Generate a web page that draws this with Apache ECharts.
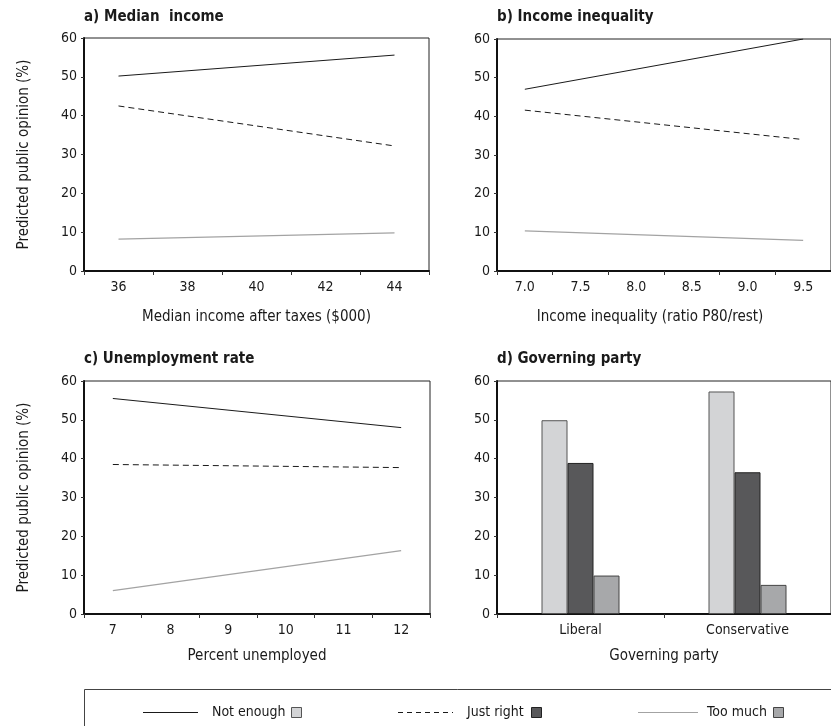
<!DOCTYPE html>
<html>
<head>
<meta charset="utf-8">
<title>Predicted public opinion</title>
<script src="https://cdn.jsdelivr.net/npm/echarts@6/dist/echarts.min.js"></script>
<style>
  html, body { margin: 0; padding: 0; background: #fff; }
  #chart { width: 831px; height: 726px; }
</style>
</head>
<body>
<div id="chart"></div>
<script>
// Category ticks for each panel
const medianIncome = ['36', '38', '40', '42', '44'];
const inequality = ['7.0', '7.5', '8.0', '8.5', '9.0', '9.5'];
const unemployment = ['7', '8', '9', '10', '11', '12'];
const parties = ['Liberal', 'Conservative'];

// Opinion groups
const opinions = ['Not enough', 'Just right', 'Too much'];

// Predicted values at the first and last tick of each range
const incomeNotEnough = [50.2, 55.6];
const incomeJustRight = [42.5, 32.2];
const incomeTooMuch = [8.2, 9.8];

const inequalityNotEnough = [47.0, 60.0];
const inequalityJustRight = [41.6, 34.0];
const inequalityTooMuch = [10.4, 7.9];

const unemploymentNotEnough = [55.5, 48.0];
const unemploymentJustRight = [38.5, 37.7];
const unemploymentTooMuch = [6.0, 16.3];

// Governing party bars (Liberal, Conservative)
const partyNotEnough = [49.9, 57.3];
const partyJustRight = [38.9, 36.5];
const partyTooMuch = [9.9, 7.5];

const FONT = "'Liberation Sans Narrow', 'DejaVu Sans Condensed', 'Roboto Condensed', sans-serif";
const INK = '#1a1a1a';

const lineStyles = [
  { color: '#1a1a1a', width: 1, type: 'solid' },
  { color: '#1a1a1a', width: 1, type: [6, 4] },
  { color: '#a3a3a3', width: 1.3, type: 'solid' }
];
const barColors = ['#d3d4d6', '#58585a', '#a7a8aa'];
const barBorders = ['#555', '#222', '#444'];

const grids = [
  { left: 84, top: 38, width: 345, height: 233 },
  { left: 497, top: 39, width: 347, height: 232 },
  { left: 84, top: 381, width: 346, height: 233 },
  { left: 497, top: 381, width: 347, height: 233 }
].map(g => Object.assign({ show: true, borderColor: '#222', borderWidth: 1, containLabel: false }, g));

function xAxisFor(idx, cats, name, nameGap, namePad) {
  return {
    type: 'category',
    gridIndex: idx,
    data: cats,
    boundaryGap: true,
    name: name,
    nameLocation: 'middle',
    nameGap: nameGap,
    nameTextStyle: { fontFamily: FONT, fontSize: 15, color: INK, padding: namePad || 0 },
    axisLine: { lineStyle: { color: '#111', width: 2 } },
    axisTick: { show: true, length: 4, lineStyle: { color: '#333', width: 1 } },
    axisLabel: { fontFamily: FONT, fontSize: 14, color: INK, margin: 9 },
    splitLine: { show: false }
  };
}

function yAxisFor(idx, withName) {
  return {
    type: 'value',
    gridIndex: idx,
    min: 0, max: 60, interval: 10,
    name: withName ? 'Predicted public opinion (%)' : '',
    nameLocation: 'middle',
    nameGap: 52,
    nameTextStyle: { fontFamily: FONT, fontSize: 15, color: INK },
    axisLine: { show: true, lineStyle: { color: '#111', width: 2 } },
    axisTick: { show: true, length: 3, lineStyle: { color: '#333' } },
    axisLabel: { fontFamily: FONT, fontSize: 14, color: INK, margin: 7 },
    splitLine: { show: false }
  };
}

function endpoints(cats, vals) {
  return [[cats[0], vals[0]], [cats[cats.length - 1], vals[1]]];
}

function lineSeries(idx, cats, sets) {
  return sets.map((vals, i) => ({
    name: opinions[i],
    type: 'line',
    xAxisIndex: idx,
    yAxisIndex: idx,
    data: endpoints(cats, vals),
    symbol: 'none',
    silent: true,
    lineStyle: lineStyles[i]
  }));
}

const series = []
  .concat(lineSeries(0, medianIncome, [incomeNotEnough, incomeJustRight, incomeTooMuch]))
  .concat(lineSeries(1, inequality, [inequalityNotEnough, inequalityJustRight, inequalityTooMuch]))
  .concat(lineSeries(2, unemployment, [unemploymentNotEnough, unemploymentJustRight, unemploymentTooMuch]))
  .concat([partyNotEnough, partyJustRight, partyTooMuch].map((vals, i) => ({
    name: opinions[i],
    type: 'bar',
    xAxisIndex: 3,
    yAxisIndex: 3,
    data: vals,
    barWidth: 26,
    barGap: '0%',
    silent: true,
    itemStyle: { color: barColors[i], borderColor: barBorders[i], borderWidth: 1 }
  })));

const panelTitles = [
  { text: 'a) Median  income', left: 84, top: 10 },
  { text: 'b) Income inequality', left: 497, top: 10 },
  { text: 'c) Unemployment rate', left: 84, top: 352 },
  { text: 'd) Governing party', left: 497, top: 352 }
].map(t => Object.assign({
  padding: 0,
  textStyle: { fontFamily: FONT, fontSize: 15, fontWeight: 'bold', color: INK }
}, t));

// Shared key at the foot of the figure: line style, label, bar swatch
const keyY = 712;
const keyItems = [
  { x1: 143, x2: 198, tx: 212, sx: 291 },
  { x1: 398, x2: 453, tx: 467, sx: 531 },
  { x1: 638, x2: 698, tx: 707, sx: 773 }
];
const keyGraphics = [{
  type: 'polyline',
  shape: { points: [[84.5, 726], [84.5, 689.5], [831, 689.5]] },
  style: { stroke: '#444', lineWidth: 1, fill: null }
}];
keyItems.forEach((k, i) => {
  keyGraphics.push({
    type: 'line',
    shape: { x1: k.x1, y1: keyY + 0.5, x2: k.x2, y2: keyY + 0.5 },
    style: { stroke: lineStyles[i].color, lineWidth: 1, lineDash: i === 1 ? [5, 4] : null }
  });
  keyGraphics.push({
    type: 'text',
    x: k.tx, y: keyY,
    style: { text: opinions[i], font: '14px ' + FONT, fill: INK, textVerticalAlign: 'middle', textAlign: 'left' }
  });
  keyGraphics.push({
    type: 'rect',
    shape: { x: k.sx + 0.5, y: keyY - 4.5, width: 10, height: 10 },
    style: { fill: barColors[i], stroke: barBorders[i], lineWidth: 1 }
  });
});

const chart = echarts.init(document.getElementById('chart'), null, { renderer: 'canvas' });
chart.setOption({
  animation: false,
  backgroundColor: '#fff',
  title: panelTitles,
  grid: grids,
  xAxis: [
    xAxisFor(0, medianIncome, 'Median income after taxes ($000)', 39),
    xAxisFor(1, inequality, 'Income inequality (ratio P80/rest)', 39, [0, 28, 0, 0]),
    xAxisFor(2, unemployment, 'Percent unemployed', 35),
    xAxisFor(3, parties, 'Governing party', 35)
  ],
  yAxis: [yAxisFor(0, true), yAxisFor(1, false), yAxisFor(2, true), yAxisFor(3, false)],
  series: series,
  graphic: keyGraphics
});
</script>
</body>
</html>
